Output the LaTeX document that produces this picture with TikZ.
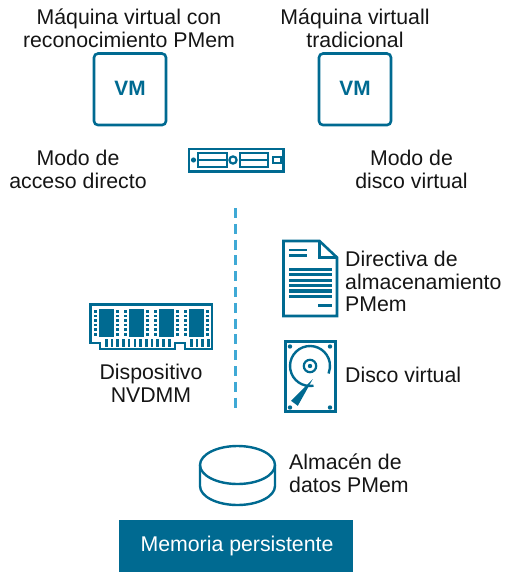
\documentclass[tikz,border=0pt]{standalone}
\usepackage{fontspec}
\setmainfont{Liberation Sans}
\definecolor{vmblue}{HTML}{006A91}
\definecolor{dashblue}{HTML}{3FA9D5}
\definecolor{txt}{HTML}{151515}
\tikzset{
 lbl/.style={inner sep=0pt,align=center,text=txt,font=\fontsize{21.3}{23.4}\selectfont},
 lbll/.style={lbl,align=left,anchor=west},
 ico/.style={draw=vmblue,line width=2.6pt,fill=none},
 vmbox/.style={draw=vmblue,line width=2.6pt,rounded corners=4pt,minimum width=72pt,minimum height=71.5pt,inner sep=0pt,text=vmblue,font=\fontsize{20.8}{22}\selectfont\bfseries},
}
\begin{document}
\begin{tikzpicture}[x=1pt,y=-1pt]
\useasboundingbox (0,0) rectangle (504,572);
% labels
\node[lbl] (t1) at (129,28.5) {Máquina virtual con\\reconocimiento PMem};
\node[lbl] (t2) at (355,28.5) {Máquina virtuall\\tradicional};
\node[lbl] (t3) at (78,169.5) {Modo de\\acceso directo};
\node[lbl] (t4) at (411.5,169.5) {Modo de\\disco virtual};
\node[lbll,font=\fontsize{21.3}{22.4}\selectfont] (t5) at (345,281.5) {Directiva de\\almacenamiento\\PMem};
\node[lbl] (t6) at (151,383.5) {Dispositivo\\NVDMM};
\node[lbll] (t7) at (345,375) {Disco virtual};
\node[lbll] (t8) at (289,473) {Almacén de\\datos PMem};
% VM boxes
\node[vmbox] (vm1) at (130,89.3) {\raisebox{1pt}{VM}};
\node[vmbox] (vm2) at (355,89.3) {\raisebox{1pt}{VM}};
% server
\draw[draw=vmblue,line width=2.4pt] (188.7,149.2) rectangle (283.5,171.3);
\draw[draw=vmblue,line width=2pt] (198,153.5) rectangle (227,166.5) (198,160) -- (227,160);
\draw[draw=vmblue,line width=2pt] (240,153.5) rectangle (268,166.5) (240,160) -- (268,160);
\draw[draw=vmblue,line width=2.2pt] (233,160) circle (3.6);
\fill[vmblue] (193.5,160) circle (2.6);
\draw[draw=vmblue,line width=2pt] (272.5,157.3) rectangle (280.5,163);
% dashed
\coordinate (d1) at (235.7,208);
\coordinate (d2) at (235.7,408);
\draw[dashblue,line width=3pt,dash pattern=on 10pt off 5.8pt] (d1) -- (d2);
% RAM
\draw[draw=vmblue,line width=2.4pt,line join=miter] (90.5,304.5) -- (212,304.5) -- (212,349) -- (185,349) -- (185,343) -- (175,343) -- (175,349) -- (100,349) -- (100,343) -- (90.5,343) -- cycle;
\foreach \x in {99,129,159,189}{
 \fill[vmblue] (\x,308.5) rectangle ++(14.5,28);
 \foreach \y in {310,314.6,319.2,323.8,328.4,333}{
  \fill[vmblue] (\x-5.5,\y) rectangle ++(3.6,2.6);
  \fill[vmblue] (\x+16.5,\y) rectangle ++(3.6,2.6);
 }
}
\foreach \i in {0,...,11}{\fill[vmblue] ({105+5.72*\i},339) rectangle ++(2.6,7.5);}
\foreach \i in {0,...,3}{\fill[vmblue] ({190+5.72*\i},339) rectangle ++(2.6,7.5);}
% document
\draw[ico,line join=miter] (283.5,241) -- (319.5,241) -- (337,257.5) -- (337,316) -- (283.5,316) -- cycle;
\draw[draw=vmblue,line width=2.4pt] (319.5,241) -- (319.5,257.5) -- (337,257.5);
\draw[draw=vmblue,line width=2.8pt] (289,250) -- (307,250) (289,255.3) -- (307,255.3);
\foreach \y in {269.3,274.7,280.1,285.5,290.9,296.3}{\draw[draw=vmblue,line width=3.2pt] (289,\y) -- (332,\y);}
\draw[draw=vmblue,line width=3pt] (318,305.3) -- (332,305.3);
% disk
\draw[ico] (285.5,341.5) rectangle (335.5,411.5);
\draw[draw=vmblue,line width=2.4pt] (313.5,385.7) arc[start angle=80,end angle=382,radius=20];
\draw[draw=vmblue,line width=2.2pt] (310,366) circle (6.2);
\fill[vmblue] (310,366) circle (2.2);
\fill[vmblue] (312.8,379) -- (291,400.8) -- (297.8,405.8) -- cycle;
\foreach \p in {(290,346.5),(330,346.5),(290,407.5),(330,407.5)}{\fill[vmblue] \p circle (2.2);}
% cylinder
\draw[draw=vmblue,line width=2.4pt] (237.5,465) ellipse [x radius=37.5,y radius=19];
\draw[draw=vmblue,line width=2.4pt] (200,465) -- (200,486) arc[start angle=180,end angle=0,x radius=37.5,y radius=19] -- (275,465);
% persistent memory
\node[fill=vmblue,minimum width=234pt,minimum height=52pt,inner sep=0pt] (pm) at (236,546) {};
\node[text=white,inner sep=0pt,font=\fontsize{21.3}{22}\selectfont] (pmt) at (237,546) {Memoria persistente};
\end{tikzpicture}
\end{document}
